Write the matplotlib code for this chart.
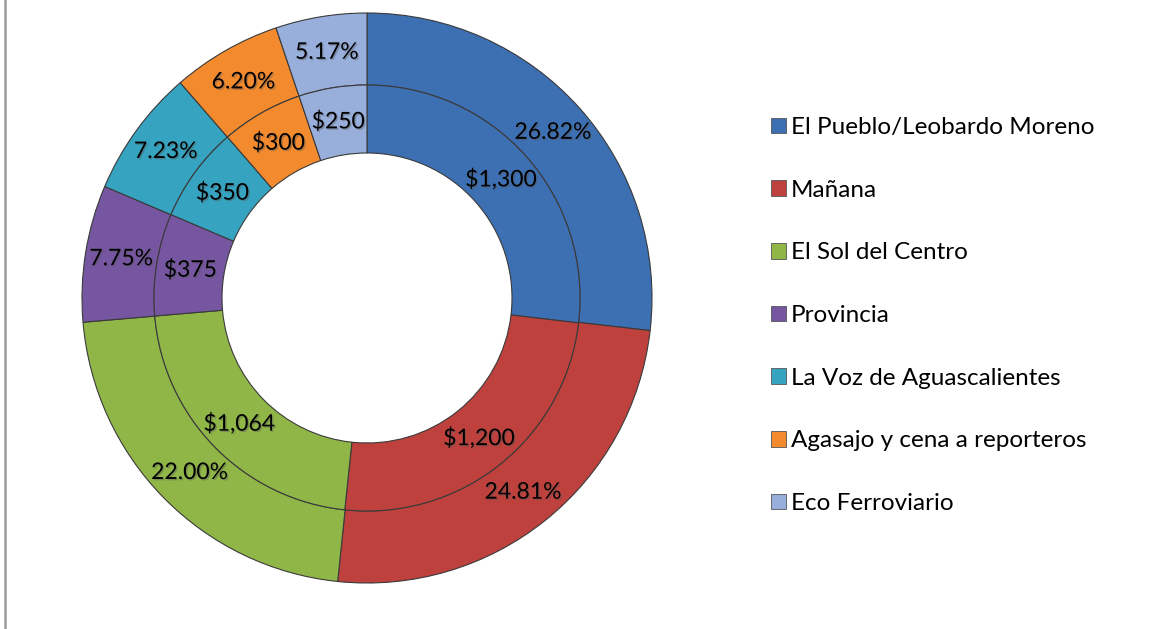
import matplotlib
matplotlib.use("Agg")
import matplotlib.pyplot as plt
from matplotlib.patches import Patch
from matplotlib.lines import Line2D
import matplotlib.patheffects as pe
import numpy as np

categories = ["El Pueblo/Leobardo Moreno", "Mañana", "El Sol del Centro", "Provincia",
              "La Voz de Aguascalientes", "Agasajo y cena a reporteros", "Eco Ferroviario"]
amounts = [1300, 1200, 1064, 375, 350, 300, 250]
amount_labels = ["$1,300", "$1,200", "$1,064", "$375", "$350", "$300", "$250"]
percents = [26.82, 24.81, 22.00, 7.75, 7.23, 6.20, 5.17]
percent_labels = ["26.82%", "24.81%", "22.00%", "7.75%", "7.23%", "6.20%", "5.17%"]
colors = ["#3d6fb3", "#be413d", "#90b648", "#7656a1", "#36a4c0", "#f38b2e", "#98afdc"]

plt.rcParams['font.family'] = ['Lato', 'DejaVu Sans']

W, H = 1171, 629
fig = plt.figure(figsize=(W / 100, H / 100), dpi=100)
cx, cy, R = 367, 298, 285
ax = fig.add_axes([(cx - R) / W, (H - cy - R) / H, 2 * R / W, 2 * R / H])

r_out, r_mid, r_in = 1.0, 213 / 285, 145 / 285
edge = dict(edgecolor="#3a3a3a", linewidth=0.8)

ax.pie(percents, radius=r_out, colors=colors, startangle=90, counterclock=False,
       wedgeprops=dict(width=r_out - r_mid, **edge))
ax.pie(amounts, radius=r_mid, colors=colors, startangle=90, counterclock=False,
       wedgeprops=dict(width=r_mid - r_in, **edge))

ax.set_xlim(-1, 1)
ax.set_ylim(-1, 1)
ax.set_aspect('equal')
ax.axis('off')

shadow = [pe.withSimplePatchShadow(offset=(1, -1), shadow_rgbFace='#555555', alpha=0.4)]
FS = 16.5

def place(values, labels, radius):
    total = sum(values)
    start = 90.0
    for v, lab in zip(values, labels):
        span = 360.0 * v / total
        mid = np.deg2rad(start - span / 2)
        ax.text(radius * np.cos(mid), radius * np.sin(mid), lab, ha='center', va='center',
                fontsize=FS, color='black', path_effects=shadow)
        start -= span

place(percents, percent_labels, (r_out + r_mid) / 2)
place(amounts, amount_labels, (r_mid + r_in) / 2)

handles = [Patch(facecolor=c, edgecolor='#555555', linewidth=0.6) for c in colors]
fig.legend(handles, categories, loc='upper left', bbox_to_anchor=(771 / W, 1 - 117 / H),
           frameon=False, fontsize=17.5, handlelength=0.6, handleheight=0.6,
           handletextpad=0.22, labelspacing=1.715, borderpad=0, borderaxespad=0)

fig.add_artist(Line2D([5.5 / W, 5.5 / W], [0, 1], transform=fig.transFigure,
                      color='#9a9a9a', linewidth=1.8))

fig.savefig("out.png", dpi=100)
